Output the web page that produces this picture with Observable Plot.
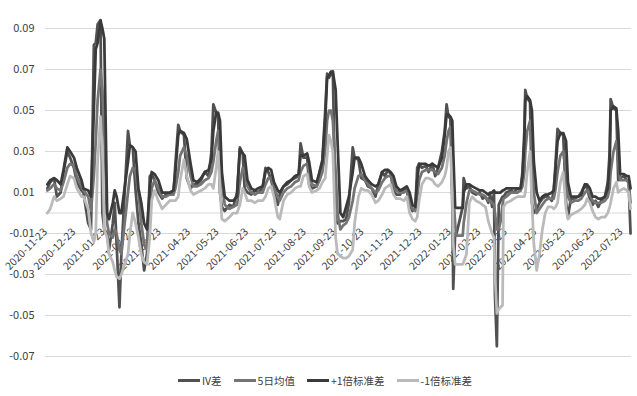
<!DOCTYPE html>
<html><head><meta charset="utf-8">
<script src="https://cdn.jsdelivr.net/npm/d3@7"></script>
<script src="https://cdn.jsdelivr.net/npm/@observablehq/plot@0.6"></script>
<style>
body{margin:0;background:#fff;}
#chart{width:637px;height:366px;}
.legend{display:flex;justify-content:center;align-items:center;height:30px;width:637px;box-sizing:border-box;padding-left:13px;padding-bottom:2px;font:10.5px "Liberation Sans Narrow","Noto Sans CJK SC",sans-serif;color:#404040;}
.item{display:flex;align-items:center;margin:0 6px;}
.sw{width:22px;height:3px;margin-right:2px;}
</style></head><body>
<div id="chart"></div>
<div class="legend" id="legend"></div>
<script>
const dates = ["2020-11-23","2020-11-26","2020-11-30","2020-12-03","2020-12-07","2020-12-10","2020-12-14","2020-12-17","2020-12-21","2020-12-24","2020-12-29","2020-12-31",
"2021-01-05","2021-01-08","2021-01-11","2021-01-13","2021-01-15","2021-01-18","2021-01-20","2021-01-22","2021-01-25","2021-01-27","2021-01-31","2021-02-02","2021-02-04","2021-02-07","2021-02-09","2021-02-16","2021-02-18","2021-02-21","2021-02-24","2021-02-27",
"2021-03-02","2021-03-05","2021-03-08","2021-03-11","2021-03-13","2021-03-16","2021-03-20","2021-03-24","2021-03-28","2021-04-01","2021-04-05","2021-04-07","2021-04-10","2021-04-12","2021-04-16","2021-04-19","2021-04-23","2021-04-26","2021-04-30",
"2021-05-04","2021-05-08","2021-05-12","2021-05-15","2021-05-17","2021-05-20","2021-05-22","2021-05-24","2021-05-26","2021-05-29","2021-06-03","2021-06-07","2021-06-11","2021-06-14","2021-06-17","2021-06-19","2021-06-22","2021-06-26","2021-06-30",
"2021-07-03","2021-07-08","2021-07-11","2021-07-14","2021-07-17","2021-07-20","2021-07-24","2021-07-26","2021-07-30","2021-08-03","2021-08-07","2021-08-11","2021-08-15","2021-08-17","2021-08-20","2021-08-24","2021-08-26","2021-08-29",
"2021-09-03","2021-09-06","2021-09-09","2021-09-12","2021-09-14","2021-09-16","2021-09-18","2021-09-20","2021-09-23","2021-09-25","2021-09-28","2021-10-01","2021-10-04","2021-10-07","2021-10-11","2021-10-13","2021-10-17","2021-10-20","2021-10-24","2021-10-27","2021-10-31",
"2021-11-04","2021-11-07","2021-11-11","2021-11-14","2021-11-17","2021-11-20","2021-11-23","2021-11-26","2021-11-30","2021-12-04","2021-12-07","2021-12-10","2021-12-13","2021-12-16","2021-12-18","2021-12-20","2021-12-23","2021-12-27","2021-12-30",
"2022-01-03","2022-01-06","2022-01-09","2022-01-13","2022-01-16","2022-01-18","2022-01-20","2022-01-22","2022-01-24","2022-01-25","2022-01-27","2022-01-28","2022-02-04","2022-02-05","2022-02-08","2022-02-11","2022-02-14","2022-02-18","2022-02-22","2022-02-25","2022-02-28",
"2022-03-03","2022-03-05","2022-03-07","2022-03-09","2022-03-10","2022-03-12","2022-03-14","2022-03-16","2022-03-18","2022-03-19","2022-03-22","2022-03-27","2022-03-30","2022-04-03","2022-04-06","2022-04-08","2022-04-10","2022-04-11","2022-04-13","2022-04-16","2022-04-18","2022-04-20","2022-04-23","2022-04-26","2022-04-29",
"2022-05-02","2022-05-05","2022-05-09","2022-05-11","2022-05-13","2022-05-15","2022-05-18","2022-05-21","2022-05-24","2022-05-26","2022-05-29","2022-06-02","2022-06-06","2022-06-09","2022-06-13","2022-06-15","2022-06-18","2022-06-21","2022-06-24","2022-06-27","2022-06-30",
"2022-07-04","2022-07-07","2022-07-09","2022-07-10","2022-07-13","2022-07-16","2022-07-18","2022-07-20","2022-07-24","2022-07-27","2022-07-29","2022-07-31"];

const ivDiff = [0.012,0.015,0.017,0.008,0.010,0.020,0.030,0.027,0.022,0.015,0.011,0.010,
-0.005,-0.008,0.082,0.083,0.092,0.094,0.000,-0.008,-0.010,-0.018,-0.005,0.005,-0.015,-0.046,-0.020,0.040,0.033,0.032,0.011,-0.005,
-0.015,-0.028,-0.020,0.018,0.019,0.016,0.010,0.007,0.009,0.009,0.010,0.024,0.043,0.040,0.038,0.017,0.012,0.014,0.014,
0.016,0.020,0.018,0.030,0.053,0.049,0.048,0.010,0.003,0.001,0.004,0.003,0.010,0.032,0.029,0.012,0.010,0.009,0.011,
0.010,0.012,0.022,0.020,0.016,0.010,0.004,0.009,0.013,0.014,0.016,0.017,0.018,0.034,0.027,0.027,0.014,0.012,
0.013,0.020,0.026,0.050,0.068,0.066,0.068,0.069,-0.003,-0.005,-0.004,-0.004,-0.003,0.005,0.032,0.027,0.026,0.017,0.016,0.013,0.012,
0.008,0.014,0.020,0.018,0.021,0.019,0.011,0.009,0.009,0.012,0.011,0.004,0.001,0.002,0.022,0.024,0.022,0.023,0.020,
0.024,0.018,0.022,0.030,0.040,0.053,0.047,0.046,0.005,-0.037,-0.010,-0.011,0.003,0.017,0.012,0.013,0.010,0.009,0.010,0.007,0.008,
0.005,0.009,0.003,0.010,-0.040,-0.065,0.004,0.006,0.008,0.008,0.010,0.011,0.010,0.012,0.011,0.020,0.040,0.060,0.056,0.054,0.005,0.000,0.002,0.005,0.007,
0.008,0.008,0.006,0.011,0.025,0.041,0.039,0.038,0.005,-0.002,0.007,0.007,0.008,0.010,0.014,0.012,0.007,0.004,0.006,0.003,0.006,
0.008,0.015,0.030,0.0555,0.051,0.050,0.016,0.017,0.018,0.016,0.015,-0.010];

const ma5 = [0.011,0.012,0.014,0.012,0.011,0.015,0.022,0.024,0.023,0.018,0.013,0.011,
0.008,0.001,0.018,0.035,0.055,0.070,0.060,0.040,-0.005,-0.010,-0.012,-0.008,-0.010,-0.018,-0.020,0.010,0.018,0.022,0.020,0.010,
-0.005,-0.015,-0.018,0.000,0.012,0.016,0.012,0.008,0.008,0.009,0.009,0.012,0.020,0.028,0.032,0.028,0.018,0.013,0.013,
0.014,0.016,0.017,0.020,0.025,0.035,0.040,0.030,0.015,0.004,0.002,0.003,0.004,0.015,0.022,0.020,0.013,0.010,0.009,
0.010,0.010,0.014,0.017,0.017,0.012,0.008,0.006,0.010,0.012,0.013,0.015,0.016,0.020,0.023,0.024,0.020,0.014,
0.013,0.016,0.020,0.030,0.045,0.050,0.050,0.045,0.020,0.000,-0.008,-0.006,-0.005,-0.002,0.006,0.012,0.018,0.019,0.016,0.014,0.012,
0.010,0.011,0.015,0.017,0.018,0.018,0.014,0.011,0.010,0.010,0.011,0.006,0.002,0.001,0.008,0.016,0.020,0.021,0.021,
0.021,0.020,0.019,0.022,0.028,0.035,0.040,0.042,0.030,0.010,-0.005,-0.011,-0.011,-0.005,0.005,0.011,0.011,0.010,0.009,0.009,0.008,
0.006,0.006,0.005,0.004,0.000,-0.008,-0.008,-0.004,0.004,0.007,0.008,0.010,0.010,0.010,0.011,0.013,0.020,0.030,0.040,0.045,0.030,0.010,0.000,0.002,0.004,
0.006,0.007,0.007,0.007,0.012,0.020,0.028,0.030,0.020,0.008,0.005,0.006,0.006,0.007,0.010,0.011,0.009,0.006,0.005,0.005,0.005,
0.006,0.008,0.012,0.020,0.030,0.035,0.025,0.016,0.016,0.016,0.015,0.005];

const upper = [0.014,0.016,0.017,0.016,0.014,0.021,0.032,0.030,0.027,0.022,0.016,0.012,
0.011,0.008,0.050,0.080,0.083,0.094,0.090,0.085,0.000,-0.003,0.005,0.011,0.008,0.000,0.000,0.025,0.033,0.032,0.030,0.012,
0.005,-0.005,-0.008,0.012,0.020,0.019,0.016,0.010,0.010,0.010,0.011,0.020,0.038,0.040,0.039,0.036,0.024,0.016,0.015,
0.017,0.020,0.021,0.026,0.040,0.049,0.049,0.045,0.020,0.008,0.006,0.006,0.008,0.031,0.029,0.028,0.016,0.012,0.011,
0.012,0.013,0.020,0.022,0.021,0.015,0.011,0.010,0.013,0.015,0.016,0.018,0.019,0.028,0.028,0.029,0.025,0.016,
0.015,0.020,0.025,0.045,0.066,0.067,0.069,0.069,0.060,0.035,0.000,-0.002,0.003,0.008,0.020,0.027,0.027,0.024,0.018,0.016,0.014,
0.013,0.014,0.020,0.021,0.021,0.020,0.018,0.013,0.011,0.012,0.013,0.010,0.004,0.003,0.016,0.024,0.024,0.024,0.023,
0.024,0.023,0.022,0.027,0.038,0.048,0.048,0.047,0.045,0.030,0.003,0.0025,0.0025,0.010,0.014,0.014,0.013,0.012,0.011,0.011,0.010,
0.009,0.010,0.010,0.011,0.010,0.010,0.010,0.010,0.011,0.011,0.012,0.012,0.012,0.012,0.012,0.018,0.035,0.055,0.057,0.055,0.050,0.025,0.010,0.006,0.008,
0.009,0.009,0.010,0.011,0.022,0.035,0.039,0.039,0.035,0.015,0.008,0.008,0.008,0.009,0.014,0.014,0.012,0.008,0.008,0.007,0.007,
0.008,0.012,0.025,0.050,0.052,0.051,0.040,0.019,0.019,0.018,0.018,0.012];

const lower = [0.000,0.002,0.008,0.006,0.007,0.008,0.014,0.018,0.017,0.012,0.008,0.008,
0.002,-0.010,-0.014,-0.010,0.025,0.047,0.030,-0.008,-0.012,-0.020,-0.024,-0.028,-0.031,-0.032,-0.030,-0.020,-0.010,0.000,-0.005,-0.012,
-0.020,-0.024,-0.025,-0.012,0.006,0.011,0.006,0.002,0.004,0.006,0.006,0.006,0.008,0.016,0.026,0.018,0.011,0.009,0.010,
0.011,0.012,0.014,0.014,0.012,0.022,0.030,0.012,-0.003,-0.004,-0.002,0.000,0.000,0.004,0.012,0.010,0.006,0.006,0.005,
0.006,0.006,0.008,0.012,0.013,0.008,-0.002,-0.003,0.006,0.009,0.010,0.012,0.013,0.013,0.018,0.019,0.013,0.010,
0.011,0.012,0.015,0.017,0.028,0.038,0.035,0.030,-0.012,-0.020,-0.021,-0.022,-0.022,-0.021,-0.018,-0.005,0.008,0.012,0.011,0.011,0.009,
0.005,0.006,0.009,0.012,0.013,0.014,0.009,0.007,0.007,0.006,0.008,0.000,-0.003,-0.004,-0.002,0.006,0.014,0.017,0.017,
0.016,0.014,0.013,0.015,0.018,0.022,0.030,0.032,0.010,-0.015,-0.025,-0.025,-0.025,-0.024,-0.020,0.005,0.008,0.006,0.005,0.004,0.003,
-0.004,-0.007,-0.010,-0.012,-0.030,-0.049,-0.047,-0.046,-0.045,0.003,0.005,0.006,0.007,0.008,0.008,0.008,0.008,0.010,0.020,0.030,0.005,-0.015,-0.028,-0.020,-0.008,
0.000,0.003,0.003,0.002,0.003,0.005,0.015,0.020,0.002,-0.003,-0.001,0.000,0.001,0.002,0.004,0.007,0.005,0.001,-0.002,-0.003,-0.002,
-0.002,0.000,0.003,0.005,0.012,0.015,0.010,0.011,0.012,0.011,0.010,0.002];

const yTicks = [-0.07,-0.05,-0.03,-0.01,0.01,0.03,0.05,0.07,0.09];
const xTickLabels = ["2020-11-23","2020-12-23","2021-01-23","2021-02-23","2021-03-23","2021-04-23","2021-05-23","2021-06-23","2021-07-23","2021-08-23","2021-09-23","2021-10-23","2021-11-23","2021-12-23","2022-01-23","2022-02-23","2022-03-23","2022-04-23","2022-05-23","2022-06-23","2022-07-23"];
const seriesNames = ["IV差","5日均值","+1倍标准差","-1倍标准差"];
const seriesColors = ["#515151","#747474","#3a3a3a","#bababa"];

const seriesValues = [ivDiff, ma5, upper, lower];
const tables = seriesValues.map(vals => dates.map((d, i) => ({date: new Date(d), value: vals[i]})));

const font = '"Liberation Sans Narrow","Arial Narrow","Noto Sans CJK SC",sans-serif';

const plot = Plot.plot({
  width: 637,
  height: 366,
  marginLeft: 45,
  marginRight: 6,
  marginTop: 28,
  marginBottom: 10,
  style: {fontFamily: font, fontSize: "11px", color: "#404040", background: "#fff"},
  x: {type: "utc", domain: [new Date("2020-11-21"), new Date("2022-08-01")], axis: null},
  y: {domain: [-0.07, 0.09], axis: null},
  marks: [
    Plot.gridY(yTicks, {stroke: "#d9d9d9", strokeOpacity: 1, strokeWidth: 1}),
    Plot.ruleY([0], {stroke: "#d9d9d9", strokeWidth: 1}),
    Plot.axisY(yTicks, {tickSize: 0, tickPadding: 11, tickFormat: d => d.toFixed(2), label: null, fontSize: 11, fill: "#404040"}),
    Plot.text(xTickLabels, {x: d => new Date(d), y: () => 0, text: d => d, rotate: -45, textAnchor: "end", dx: -2, dy: 17, fontSize: 10.5, fill: "#404040"}),
    ...tables.map((t, i) => Plot.line(t, {x: "date", y: "value", stroke: seriesColors[i], strokeWidth: 2.75, strokeLinejoin: "round", strokeLinecap: "round"}))
  ]
});
document.getElementById("chart").appendChild(plot);

const legend = document.getElementById("legend");
seriesNames.forEach((name, i) => {
  const item = document.createElement("div");
  item.className = "item";
  const sw = document.createElement("span");
  sw.className = "sw";
  sw.style.background = seriesColors[i];
  const label = document.createElement("span");
  label.textContent = name;
  item.appendChild(sw);
  item.appendChild(label);
  legend.appendChild(item);
});
</script>
</body></html>
